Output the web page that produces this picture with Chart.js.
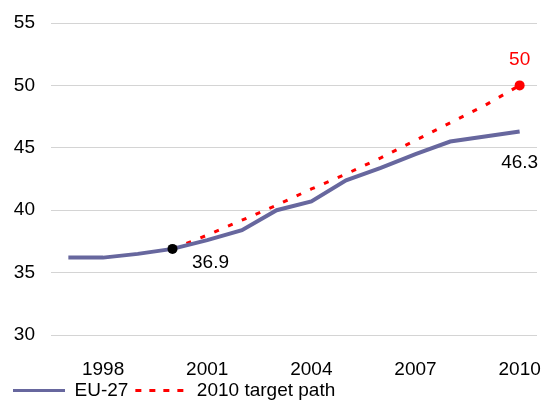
<!DOCTYPE html>
<html>
<head>
<meta charset="utf-8">
<script src="https://cdn.jsdelivr.net/npm/chart.js@4/dist/chart.umd.min.js"></script>
<style>
  html, body { margin: 0; padding: 0; background: #fff; }
  #wrap { width: 543px; height: 401px; }
</style>
</head>
<body>
<div id="wrap"><canvas id="c" width="543" height="401"></canvas></div>
<script>
// Years on the horizontal axis
const years = ['1997', '1998', '1999', '2000', '2001', '2002', '2003', '2004', '2005', '2006', '2007', '2008', '2009', '2010'];
// EU-27 observed values
const eu27 = [36.2, 36.2, 36.5, 36.9, 37.6, 38.4, 40.0, 40.7, 42.4, 43.4, 44.5, 45.5, 45.9, 46.3];
// Path towards the 2010 target, starting from the 2000 value
const targetPath = [null, null, null, 36.9, 38.0, 39.2, 40.4, 41.7, 42.9, 44.2, 45.6, 47.0, 48.4, 50.0];
// Years that carry a tick label
const labelledYears = ['1998', '2001', '2004', '2007', '2010'];

const FONT = "'Liberation Sans', Arial, sans-serif";
const PURPLE = '#67679e';
const RED = '#ff0000';

const valueLabels = {
  id: 'valueLabels',
  afterDatasetsDraw(chart) {
    const ctx = chart.ctx;
    ctx.save();
    ctx.font = '19px ' + FONT;
    ctx.textAlign = 'center';
    ctx.textBaseline = 'middle';
    const m0 = chart.getDatasetMeta(0).data;
    const m1 = chart.getDatasetMeta(1).data;
    // 2000 value, below-right of the marker
    ctx.fillStyle = '#000';
    let p = m0[3];
    ctx.fillText(String(eu27[3]), p.x + 38, p.y + 14);
    // 2010 value, below the end of the line
    p = m0[13];
    ctx.fillText(String(eu27[13]), p.x, p.y + 31);
    // 2010 target, above the red marker
    ctx.fillStyle = RED;
    p = m1[13];
    ctx.fillText(String(targetPath[13]), p.x, p.y - 26);
    ctx.restore();
  }
};

// Pull the legend row up a little, closer to the year labels
const legendShift = {
  id: 'legendShift',
  afterLayout(chart) {
    const lg = chart.legend;
    if (lg) { lg.top -= 7; lg.bottom -= 7; }
  }
};

new Chart(document.getElementById('c'), {
  type: 'line',
  data: {
    labels: years,
    datasets: [
      {
        label: 'EU-27',
        data: eu27,
        borderColor: PURPLE,
        backgroundColor: PURPLE,
        borderWidth: 4,
        tension: 0,
        pointRadius: years.map((y) => (y === '2000' ? 5 : 0)),
        pointBackgroundColor: '#000',
        pointBorderWidth: 0,
        pointHoverRadius: 0
      },
      {
        label: '2010 target path',
        data: targetPath,
        borderColor: RED,
        backgroundColor: RED,
        borderWidth: 3,
        borderDash: [5, 10],
        tension: 0,
        pointRadius: years.map((y) => (y === '2010' ? 5 : 0)),
        pointBackgroundColor: RED,
        pointBorderWidth: 0,
        pointHoverRadius: 0
      }
    ]
  },
  options: {
    responsive: false,
    animation: false,
    layout: { padding: { left: 6, right: 6, top: 23, bottom: -16 } },
    plugins: {
      tooltip: { enabled: false },
      legend: {
        position: 'bottom',
        align: 'start',
        labels: {
          color: '#000',
          font: { family: FONT, size: 19 },
          boxWidth: 52,
          boxHeight: 0,
          padding: 7,
          generateLabels(chart) {
            const items = Chart.defaults.plugins.legend.labels.generateLabels(chart);
            items.forEach((it, i) => {
              it.lineWidth = 3;
              it.lineDash = i === 1 ? [5, 9] : [];
              it.fillStyle = 'rgba(0,0,0,0)';
            });
            return items;
          }
        }
      }
    },
    scales: {
      x: {
        offset: true,
        afterFit(scale) {
          scale.height = 46;
          scale.paddingLeft = 0;
          scale.paddingRight = 0;
        },
        grid: { display: false, drawTicks: false },
        border: { display: false },
        ticks: {
          autoSkip: false,
          maxRotation: 0,
          padding: 23,
          color: '#000',
          font: { family: FONT, size: 19 },
          callback(v, i) {
            const y = years[i];
            return labelledYears.includes(y) ? y : '';
          }
        }
      },
      y: {
        min: 30,
        max: 55,
        afterFit(scale) {
          scale.width = 45;
          scale.paddingTop = 0;
          scale.paddingBottom = 0;
        },
        grid: { color: '#d4d4d4', lineWidth: 1, drawTicks: false },
        border: { display: false },
        ticks: {
          stepSize: 5,
          padding: 16,
          color: '#000',
          font: { family: FONT, size: 19 }
        }
      }
    }
  },
  plugins: [valueLabels, legendShift]
});
</script>
</body>
</html>
